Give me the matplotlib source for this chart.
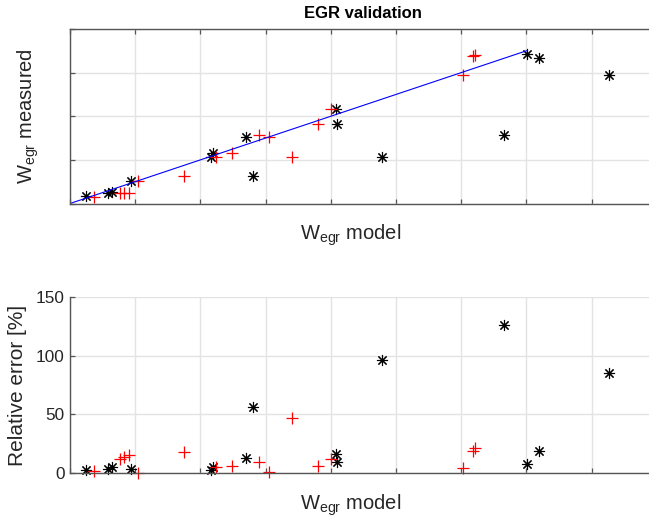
import matplotlib
matplotlib.use("Agg")
import matplotlib.pyplot as plt

plt.rcParams["font.family"] = ["Liberation Sans", "DejaVu Sans"]

# Validation set (black asterisks)
val_model = [0.245, 0.587, 0.64, 0.943, 2.158, 2.198, 2.70, 2.81, 4.075, 4.09,
             4.78, 6.656, 7.01, 7.20, 8.26]
val_measured = [0.34, 0.50, 0.51, 1.03, 2.12, 2.33, 3.04, 1.28, 4.35, 3.66,
                2.13, 3.14, 6.84, 6.67, 5.89]
val_error = [2.5, 2.9, 5.1, 3.2, 2.1, 5.1, 12.3, 55.9, 15.7, 8.9,
             96.3, 126.2, 7.7, 18.5, 85.5]

# Estimation set (red crosses)
est_model = [0.368, 0.767, 0.833, 0.905, 1.048, 1.748, 2.239, 2.485, 2.903, 3.057,
             3.41, 3.808, 3.998, 6.023, 6.186, 6.21]
est_measured = [0.31, 0.47, 0.47, 0.47, 1.05, 1.28, 2.15, 2.33, 3.16, 3.04,
                2.15, 3.66, 4.35, 5.91, 6.77, 6.81]
est_error = [1.7, 11.5, 13.2, 15.2, 0.0, 17.7, 5.1, 5.7, 8.9, 0.9,
             46.5, 5.7, 11.5, 4.3, 18.5, 20.9]

# Ideal fit line y = x
ideal = [0.0, 7.0]

x_grid = list(range(0, 10))
top_y_grid = [0, 2, 4, 6, 8]
err_ticks = [0, 50, 100, 150]

W, H = 649, 527
fig = plt.figure(figsize=(W / 100, H / 100), dpi=100)

def frac(x0, y_top, x1, y_bot):
    return [x0 / W, 1 - y_bot / H, (x1 - x0) / W, (y_bot - y_top) / H]

ax1 = fig.add_axes(frac(70, 29, 656.8, 203.5))
ax2 = fig.add_axes(frac(70, 297.3, 656.8, 472.7))

asterisk = (8, 2, 0)
frame_col = "#555555"
grid_col = "#e3e3e3"
text_col = "#262626"
label_x = (351 - 70) / (656.8 - 70)

for ax in (ax1, ax2):
    ax.set_xlim(0, 9)
    ax.set_xticks(x_grid)
    ax.grid(True, color=grid_col, linewidth=1.0)
    ax.set_axisbelow(True)
    ax.tick_params(direction="in", length=3.5, width=0.9, color=frame_col,
                   labelsize=12.4, labelcolor=text_col, pad=4)
    ax.set_xticklabels([])
    for s in ax.spines.values():
        s.set_color(frame_col)
        s.set_linewidth(1.0)

# Top panel: measured vs model
ax1.set_ylim(0, 8)
ax1.set_yticks(top_y_grid)
ax1.set_yticklabels([])
ax1.tick_params(top=True, right=True)
ax1.plot(val_model, val_measured, linestyle="none", marker=asterisk,
         color="black", markersize=8, markeredgewidth=0.8)
ax1.plot(est_model, est_measured, linestyle="none", marker="+",
         color="red", markersize=9, markeredgewidth=0.9)
ax1.plot(ideal, ideal, color="blue", linewidth=0.8)
ax1.set_title("EGR validation", fontsize=12, fontweight="bold", pad=8)
ax1.set_xlabel(r"W$_{\mathregular{egr}}$ model", fontsize=14.5, color=text_col)
ax1.xaxis.set_label_coords(label_x, -0.11)
ax1.set_ylabel(r"W$_{\mathregular{egr}}$ measured", fontsize=14.5, color=text_col)
ax1.yaxis.set_label_coords(-0.05, 0.5)

# Bottom panel: relative error
ax2.set_ylim(0, 150)
ax2.set_yticks(err_ticks)
ax2.spines["top"].set_visible(False)
ax2.plot(val_model, val_error, linestyle="none", marker=asterisk,
         color="black", markersize=8, markeredgewidth=0.8, clip_on=False)
ax2.plot(est_model, est_error, linestyle="none", marker="+",
         color="red", markersize=9, markeredgewidth=0.9, clip_on=False)
ax2.set_xlabel(r"W$_{\mathregular{egr}}$ model", fontsize=14.5, color=text_col)
ax2.xaxis.set_label_coords(label_x, -0.115)
ax2.set_ylabel("Relative error [%]", fontsize=15, color=text_col, labelpad=6)

fig.savefig("out.png", dpi=100)
